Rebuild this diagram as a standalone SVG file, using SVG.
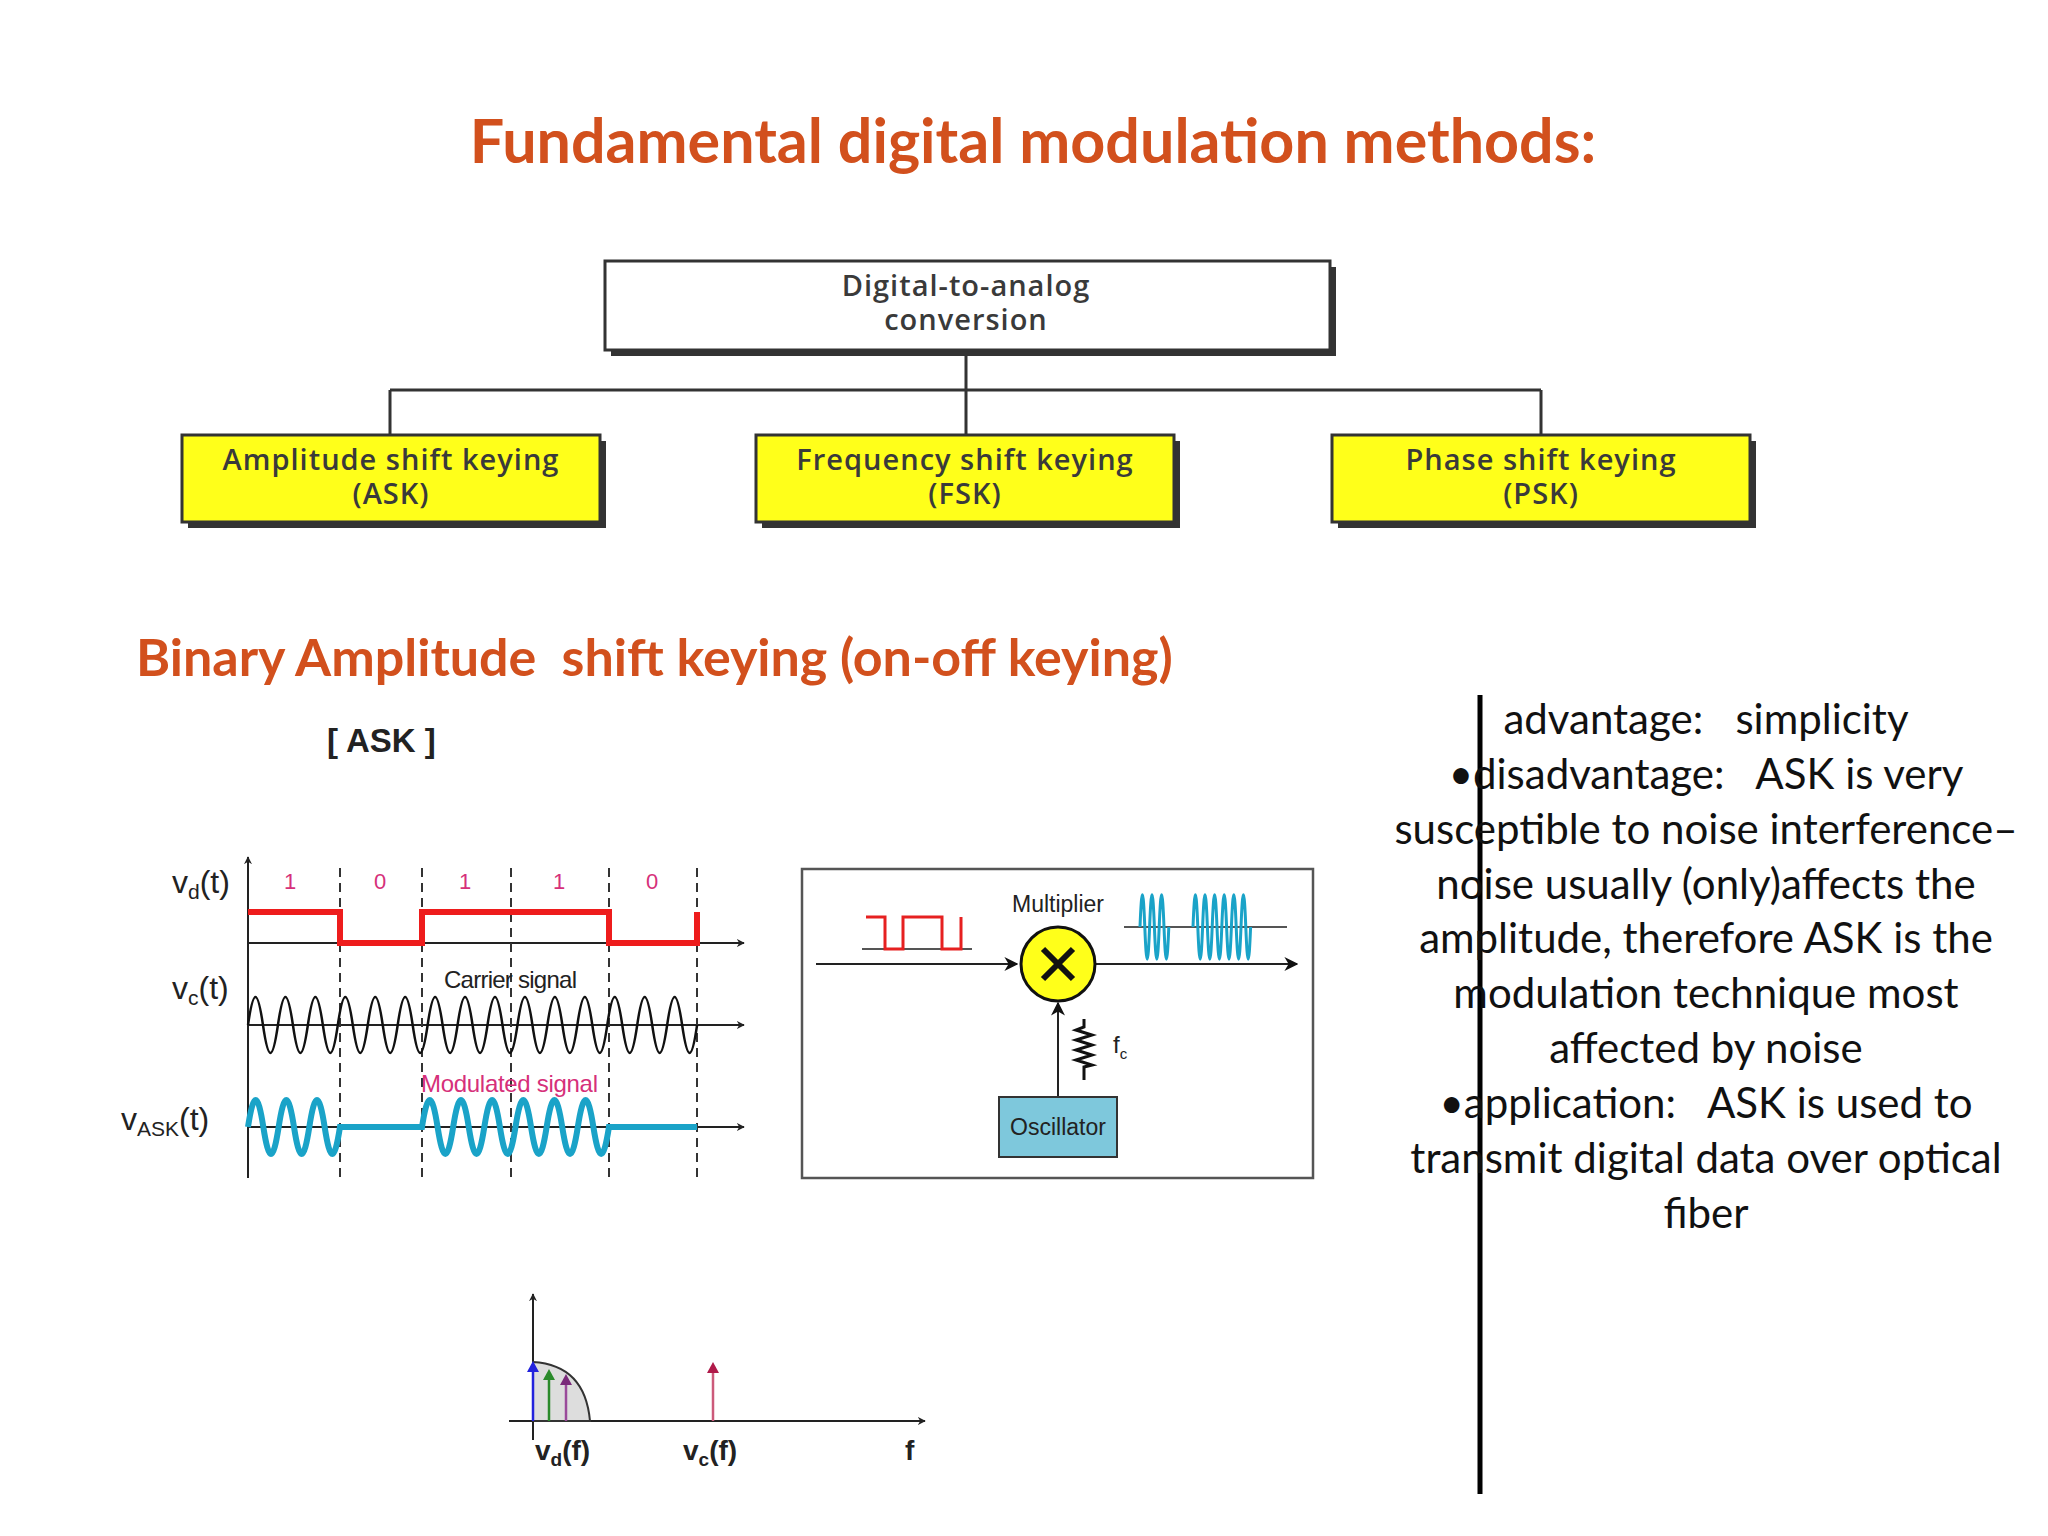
<svg xmlns="http://www.w3.org/2000/svg" width="2048" height="1536" viewBox="0 0 2048 1536">
<defs>
<style>
.ttl{font-family:Lato,"Liberation Sans",sans-serif;font-weight:bold;fill:#d2501d;white-space:pre}
.box{font-family:"Open Sans","Liberation Sans",sans-serif;font-weight:600;font-size:29px;fill:#3a3a3a;text-anchor:middle;letter-spacing:1px}
.lab{font-family:"Liberation Sans",Arial,sans-serif;fill:#222}
.bit{font-family:"Liberation Sans",sans-serif;font-size:22px;fill:#d6307a;text-anchor:middle}
.body{font-family:Lato,"Liberation Sans",sans-serif;font-size:42px;fill:#111;text-anchor:middle;white-space:pre}
.dash{stroke:#333;stroke-width:2;stroke-dasharray:9,6}
.ax{stroke:#222;stroke-width:2;fill:none}
</style>
<marker id="ah" viewBox="0 0 10 10" refX="9" refY="5" markerWidth="8" markerHeight="8" orient="auto" markerUnits="userSpaceOnUse"><path d="M0,0 L10,5 L0,10 L3,5z" fill="#222"/></marker>
<marker id="ahb" viewBox="0 0 10 10" refX="9" refY="5" markerWidth="14" markerHeight="14" orient="auto" markerUnits="userSpaceOnUse"><path d="M0,0 L10,5 L0,10 L3,5z" fill="#111"/></marker>
</defs>
<rect width="2048" height="1536" fill="#fff"/>
<text class="ttl" x="1033" y="163" font-size="61" text-anchor="middle">Fundamental digital modulation methods:</text>

<g id="connectors" stroke="#333" stroke-width="3" fill="none">
<path d="M966,350 V390 M390,390 H1541 M390,390 V435 M966,390 V435 M1541,390 V435"/>
</g>
<g id="root"><rect x="611" y="267" width="725" height="89" fill="#333"/><rect x="605" y="261" width="725" height="89" fill="#fff" stroke="#333" stroke-width="3"/>
<text class="box" x="966" y="296">Digital-to-analog</text><text class="box" x="966" y="330">conversion</text></g>
<g id="ask"><rect x="188" y="441" width="418" height="87" fill="#333"/><rect x="182" y="435" width="418" height="87" fill="#ffff1a" stroke="#333" stroke-width="3"/>
<text class="box" x="391" y="470">Amplitude shift keying</text><text class="box" x="391" y="504">(ASK)</text></g>
<g id="fsk"><rect x="762" y="441" width="418" height="87" fill="#333"/><rect x="756" y="435" width="418" height="87" fill="#ffff1a" stroke="#333" stroke-width="3"/>
<text class="box" x="965" y="470">Frequency shift keying</text><text class="box" x="965" y="504">(FSK)</text></g>
<g id="psk"><rect x="1338" y="441" width="418" height="87" fill="#333"/><rect x="1332" y="435" width="418" height="87" fill="#ffff1a" stroke="#333" stroke-width="3"/>
<text class="box" x="1541" y="470">Phase shift keying</text><text class="box" x="1541" y="504">(PSK)</text></g>

<text class="ttl" x="136" y="676" font-size="52">Binary Amplitude  shift keying (on-off keying)</text>
<text class="lab" x="327" y="752" font-size="33" font-weight="bold">[ ASK ]</text>

<g id="waveforms">
<line class="ax" x1="248" y1="1178" x2="248" y2="857" marker-end="url(#ah)"/>
<line class="ax" x1="248" y1="943" x2="744" y2="943" marker-end="url(#ah)"/>
<line class="ax" x1="248" y1="1025" x2="744" y2="1025" marker-end="url(#ah)"/>
<line class="ax" x1="248" y1="1127" x2="744" y2="1127" marker-end="url(#ah)"/>
<path class="dash" d="M340,868 V1178 M422,868 V1178 M511,868 V1178 M609,868 V1178 M697,868 V1178"/>
<text class="bit" x="290" y="889">1</text><text class="bit" x="380" y="889">0</text><text class="bit" x="465" y="889">1</text><text class="bit" x="559" y="889">1</text><text class="bit" x="652" y="889">0</text>
<path d="M248,912 H340 V943 H422 V912 H609 V943 H697 V912" fill="none" stroke="#ee1c1c" stroke-width="6"/>
<path fill="none" stroke="#111" stroke-width="2.5" d="M248,1025 c5.45,-37.3 9.52,-37.3 14.97,0 c5.45,37.3 9.52,37.3 14.97,0 c5.45,-37.3 9.52,-37.3 14.97,0 c5.45,37.3 9.52,37.3 14.97,0 c5.45,-37.3 9.52,-37.3 14.97,0 c5.45,37.3 9.52,37.3 14.97,0 c5.45,-37.3 9.52,-37.3 14.97,0 c5.45,37.3 9.52,37.3 14.97,0 c5.45,-37.3 9.52,-37.3 14.97,0 c5.45,37.3 9.52,37.3 14.97,0 c5.45,-37.3 9.52,-37.3 14.97,0 c5.45,37.3 9.52,37.3 14.97,0 c5.45,-37.3 9.52,-37.3 14.97,0 c5.45,37.3 9.52,37.3 14.97,0 c5.45,-37.3 9.52,-37.3 14.97,0 c5.45,37.3 9.52,37.3 14.97,0 c5.45,-37.3 9.52,-37.3 14.97,0 c5.45,37.3 9.52,37.3 14.97,0 c5.45,-37.3 9.52,-37.3 14.97,0 c5.45,37.3 9.52,37.3 14.97,0 c5.45,-37.3 9.52,-37.3 14.97,0 c5.45,37.3 9.52,37.3 14.97,0 c5.45,-37.3 9.52,-37.3 14.97,0 c5.45,37.3 9.52,37.3 14.97,0 c5.45,-37.3 9.52,-37.3 14.97,0 c5.45,37.3 9.52,37.3 14.97,0 c5.45,-37.3 9.52,-37.3 14.97,0 c5.45,37.3 9.52,37.3 14.97,0 c5.45,-37.3 9.52,-37.3 14.97,0 c5.45,37.3 9.52,37.3 14.97,0"/>
<path fill="none" stroke="#1aa3c8" stroke-width="6" d="M248,1127 c5.6,-36 9.7,-36 15.33,0 c5.6,36 9.7,36 15.33,0 c5.6,-36 9.7,-36 15.33,0 c5.6,36 9.7,36 15.33,0 c5.6,-36 9.7,-36 15.33,0 c5.6,36 9.7,36 15.33,0 H422 c5.7,-36 9.9,-36 15.58,0 c5.7,36 9.9,36 15.58,0 c5.7,-36 9.9,-36 15.58,0 c5.7,36 9.9,36 15.58,0 c5.7,-36 9.9,-36 15.58,0 c5.7,36 9.9,36 15.58,0 c5.7,-36 9.9,-36 15.58,0 c5.7,36 9.9,36 15.58,0 c5.7,-36 9.9,-36 15.58,0 c5.7,36 9.9,36 15.58,0 c5.7,-36 9.9,-36 15.58,0 c5.7,36 9.9,36 15.58,0 H697"/>
<text class="lab" x="172" y="893" font-size="32">v<tspan font-size="21" dy="6">d</tspan><tspan dy="-6">(t)</tspan></text>
<text class="lab" x="172" y="999" font-size="32">v<tspan font-size="21" dy="6">c</tspan><tspan dy="-6">(t)</tspan></text>
<text class="lab" x="121" y="1130" font-size="32">v<tspan font-size="21" dy="6">ASK</tspan><tspan dy="-6">(t)</tspan></text>
<text class="lab" x="444" y="988" font-size="24" textLength="133" fill="#333">Carrier signal</text>
<text class="lab" x="421" y="1092" font-size="24" textLength="177" style="fill:#d6307a">Modulated signal</text>
</g>

<g id="modulator">
<rect x="802" y="869" width="511" height="309" fill="#fff" stroke="#555" stroke-width="2.5"/>
<line class="ax" x1="816" y1="964" x2="1017" y2="964" marker-end="url(#ahb)"/>
<line class="ax" x1="1095" y1="964" x2="1297" y2="964" marker-end="url(#ahb)"/>
<line x1="862" y1="949" x2="972" y2="949" stroke="#555" stroke-width="2"/>
<path d="M866,917 H885 V949 H903 V917 H942 V949 H961 V917" fill="none" stroke="#e62020" stroke-width="3"/>
<line x1="1124" y1="927" x2="1287" y2="927" stroke="#555" stroke-width="2"/>
<path fill="none" stroke="#1aa3c8" stroke-width="3" d="M1140,927 c1.7,-43 3.1,-43 4.8,0 c1.7,43 3.1,43 4.8,0 c1.7,-43 3.1,-43 4.8,0 c1.7,43 3.1,43 4.8,0 c1.7,-43 3.1,-43 4.8,0 c1.7,43 3.1,43 4.8,0 M1193,927 c1.7,-43 3.1,-43 4.8,0 c1.7,43 3.1,43 4.8,0 c1.7,-43 3.1,-43 4.8,0 c1.7,43 3.1,43 4.8,0 c1.7,-43 3.1,-43 4.8,0 c1.7,43 3.1,43 4.8,0 c1.7,-43 3.1,-43 4.8,0 c1.7,43 3.1,43 4.8,0 c1.7,-43 3.1,-43 4.8,0 c1.7,43 3.1,43 4.8,0 c1.7,-43 3.1,-43 4.8,0 c1.7,43 3.1,43 4.8,0"/>
<circle cx="1058" cy="964" r="37" fill="#ffff1a" stroke="#111" stroke-width="3"/>
<path d="M1043,949 L1073,979 M1073,949 L1043,979" stroke="#111" stroke-width="6"/>
<text class="lab" x="1058" y="912" font-size="23" text-anchor="middle" fill="#333">Multiplier</text>
<line class="ax" x1="1058" y1="1097" x2="1058" y2="1003" marker-end="url(#ahb)"/>
<path d="M1084,1019 V1027 l-8,3 l16,5 l-16,5 l16,5 l-16,5 l16,5 l-16,5 l16,5 l-8,2 V1080" fill="none" stroke="#111" stroke-width="3"/>
<text class="lab" x="1113" y="1053" font-size="24" fill="#333">f<tspan font-size="15" dy="6">c</tspan></text>
<rect x="999" y="1097" width="118" height="60" fill="#7ec8dc" stroke="#333" stroke-width="2"/>
<text class="lab" x="1058" y="1135" font-size="23" text-anchor="middle" fill="#1a3340">Oscillator</text>
</g>

<g id="spectrum">
<line class="ax" x1="533" y1="1440" x2="533" y2="1294" marker-end="url(#ah)"/>
<line class="ax" x1="509" y1="1421" x2="925" y2="1421" marker-end="url(#ah)"/>
<path d="M533,1421 V1362 Q585,1365 590,1421 Z" fill="#ddd" stroke="#333" stroke-width="2"/>
<path d="M533,1421 V1364" stroke="#2222dd" stroke-width="2.5"/><path d="M527,1372 L533,1361 L539,1372Z" fill="#2222dd"/>
<path d="M549,1421 V1374" stroke="#2a8a2a" stroke-width="2.5"/><path d="M543,1380 L549,1369 L555,1380Z" fill="#2a8a2a"/>
<path d="M566,1421 V1380" stroke="#9a4a9a" stroke-width="2.5"/><path d="M560,1385 L566,1374 L572,1385Z" fill="#7a2a7a"/>
<path d="M713,1421 V1368" stroke="#cc5a7a" stroke-width="2.5"/><path d="M707,1373 L713,1362 L719,1373Z" fill="#b01a4a"/>
<text class="lab" x="535" y="1460" font-size="28" font-weight="bold">v<tspan font-size="19" dy="6">d</tspan><tspan dy="-6">(f)</tspan></text>
<text class="lab" x="683" y="1460" font-size="28" font-weight="bold">v<tspan font-size="19" dy="6">c</tspan><tspan dy="-6">(f)</tspan></text>
<text class="lab" x="905" y="1460" font-size="28" font-weight="bold">f</text>
</g>

<line x1="1480" y1="695" x2="1480" y2="1494" stroke="#000" stroke-width="5"/>
<g id="notes">
<text class="body" x="1706" y="734">advantage:   simplicity</text>
<text class="body" x="1706" y="789">•disadvantage:   ASK is very</text>
<text class="body" x="1706" y="844">susceptible to noise interference–</text>
<text class="body" x="1706" y="899">noise usually (only)affects the</text>
<text class="body" x="1706" y="953">amplitude, therefore ASK is the</text>
<text class="body" x="1706" y="1008">modulation technique most</text>
<text class="body" x="1706" y="1063">affected by noise</text>
<text class="body" x="1706" y="1118">•application:   ASK is used to</text>
<text class="body" x="1706" y="1173">transmit digital data over optical</text>
<text class="body" x="1706" y="1228">fiber</text>
</g>
</svg>
